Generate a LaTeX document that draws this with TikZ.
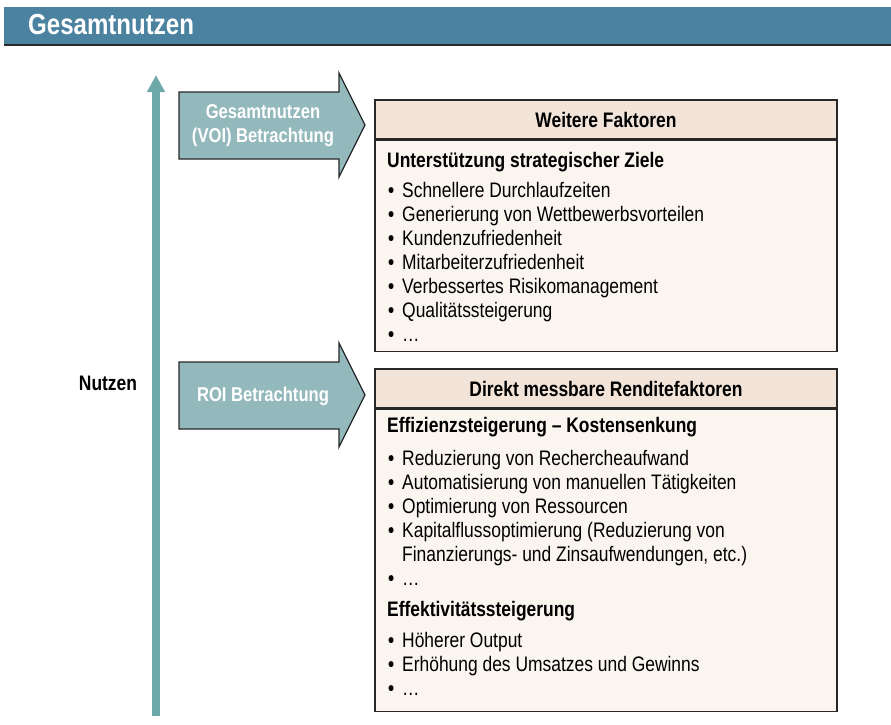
\documentclass[tikz,border=0pt]{standalone}
\usepackage{fontspec}
\setmainfont{Liberation Sans}[FakeStretch=0.83]
\usetikzlibrary{positioning, arrows.meta}

\definecolor{barblue}{RGB}{74,130,160}
\definecolor{axisteal}{RGB}{111,168,168}
\definecolor{arrowfill}{RGB}{147,185,188}
\definecolor{headfill}{RGB}{242,228,216}
\definecolor{bodyfill}{RGB}{250,245,239}
\definecolor{linegray}{RGB}{40,40,40}

\newcommand{\itemdot}{\makebox[14pt][l]{\bfseries\textbullet}}

\begin{document}
\begin{tikzpicture}[
		x=1pt, y=-1pt,
		title/.style={anchor=base west, inner sep=0, text=white, font=\fontsize{29}{34}\selectfont\bfseries},
		header/.style={rectangle, draw=linegray, line width=1.3pt, fill=headfill, minimum width=462pt, minimum height=39pt, inner sep=0, font=\fontsize{21}{24}\selectfont\bfseries},
		body/.style={rectangle, draw=linegray, line width=1.3pt, fill=bodyfill, minimum width=462pt, inner sep=0},
		subhead/.style={anchor=base west, inner sep=0, font=\fontsize{21}{24}\selectfont\bfseries},
		item/.style={anchor=base west, inner sep=0, font=\fontsize{21}{24}\selectfont},
		shapearrow/.style={draw=linegray, line width=1.2pt, fill=arrowfill, line join=miter},
		arrowtext/.style={align=center, text=white, inner sep=0, font=\fontsize{20}{24}\selectfont\bfseries},
		axis/.style={line width=8pt, axisteal, -{Triangle[width=17pt, length=17pt]}}
		]
		\useasboundingbox (0,0) rectangle (891,725);
		
		% Title bar
		\fill[barblue] (4,7) rectangle (891,44);
		\draw[line width=2pt, linegray] (4,45) -- (891,45);
		\node (ttl) [title] at (28,35) {Gesamtnutzen};
		
		% Axis
		\coordinate (axbot) at (156,716);
		\coordinate (axtop) at (156,75);
		\draw [axis] (axbot) -- (axtop);
		\node (nutzen) [font=\fontsize{21}{24}\selectfont\bfseries] at (108,383) {Nutzen};
		
		% Arrow shapes
		\draw [shapearrow] (179,92) -- (339,92) -- (339,73) -- (365,125) -- (339,177) -- (339,159) -- (179,159) -- cycle;
		\node (voi) [arrowtext] at (263,126) {Gesamtnutzen\\(VOI) Betrachtung};
		\draw [shapearrow] (179,362) -- (339,362) -- (339,343) -- (365,395) -- (339,447) -- (339,429) -- (179,429) -- cycle;
		\node (roi) [arrowtext] at (263,396) {ROI Betrachtung};
		
		% Boxes
		\node (hdA) [header] at (606,119.5) {Weitere Faktoren};
		\node (bdA) [body, minimum height=211pt, below=0pt of hdA] {};
		\node (hdB) [header] at (606,388.5) {Direkt messbare Renditefaktoren};
		\node (bdB) [body, minimum height=302pt, below=0pt of hdB] {};
		
		% Texts of box A
		\node (sa) [subhead] at (387,167) {Unterstützung strategischer Ziele};
		\foreach \y/\txt [count=\i] in {197/Schnellere Durchlaufzeiten, 221/Generierung von Wettbewerbsvorteilen, 245/Kundenzufriedenheit, 269/Mitarbeiterzufriedenheit, 293/Verbessertes Risikomanagement, 317/Qualitätssteigerung, 341/\ldots}
		\node (a\i) [item] at (388,\y) {\itemdot\txt};
		
		% Texts of box B
		\node (sb) [subhead] at (387,432) {Effizienzsteigerung – Kostensenkung};
		\foreach \y/\txt [count=\i] in {465/Reduzierung von Rechercheaufwand, 489/Automatisierung von manuellen Tätigkeiten, 513/Optimierung von Ressourcen, 537/Kapitalflussoptimierung (Reduzierung von}
		\node (b\i) [item] at (388,\y) {\itemdot\txt};
		\node (b5) [item] at (402,561) {Finanzierungs- und Zinsaufwendungen, etc.)};
		\node (b6) [item] at (388,585) {\itemdot\ldots};
		\node (sc) [subhead] at (387,616) {Effektivitätssteigerung};
		\foreach \y/\txt [count=\i] in {647/Höherer Output, 671/Erhöhung des Umsatzes und Gewinns, 695/\ldots}
		\node (c\i) [item] at (388,\y) {\itemdot\txt};
		
	\end{tikzpicture}
\end{document}
